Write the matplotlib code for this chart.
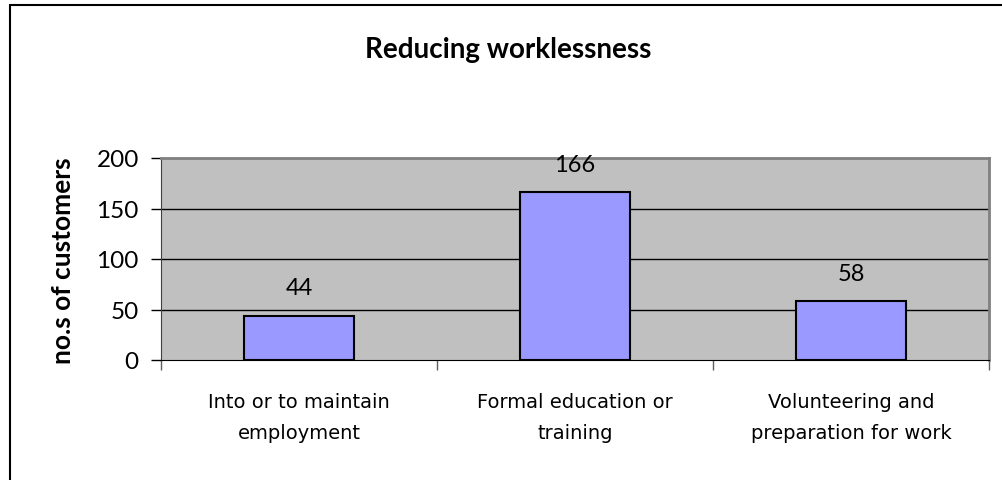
import matplotlib.pyplot as plt
from matplotlib.patches import Rectangle

categorias = ["Into or to maintain\nemployment", "Formal education or\ntraining", "Volunteering and\npreparation for work"]
clientes = [44, 166, 58]
ticks_y = [0, 50, 100, 150, 200]

plt.rcParams['font.family'] = ['Lato', 'DejaVu Sans']

fig = plt.figure(figsize=(10.03, 4.81), dpi=100)
W, H = 1003, 481

# marco exterior del grafico (sale por la derecha y abajo)
fig.patches.append(Rectangle((10 / W, -0.1), 1.1, 1.1 - 5.5 / H, transform=fig.transFigure,
                             fill=False, edgecolor="black", linewidth=1.5))

ax = fig.add_axes([161 / W, (H - 361) / H, 828 / W, 202 / H])
ax.set_facecolor("#C0C0C0")

x = range(len(clientes))
ax.bar(x, clientes, width=0.4, color="#9999FF", edgecolor="black", linewidth=1.5, zorder=3)
for xi, v in zip(x, clientes):
    ax.annotate(str(v), (xi, v), xytext=(0, 20), textcoords="offset points",
                ha="center", va="center", fontsize=17)

ax.set_xlim(-0.5, 2.5)
ax.set_ylim(0, 200)
ax.set_yticks(ticks_y)
ax.tick_params(axis="y", length=7, width=1, direction="out", labelsize=17.5, pad=9)
for y in ticks_y[1:-1]:
    ax.axhline(y, color="black", linewidth=1, zorder=1)

# marcas en los limites de cada categoria, etiquetas en el centro
ax.set_xticks([-0.5, 0.5, 1.5, 2.5])
ax.set_xticklabels([])
ax.tick_params(axis="x", which="major", length=7, width=1, color="#606060")
ax.set_xticks(list(x), minor=True)
ax.set_xticklabels(categorias, minor=True, fontsize=14, linespacing=1.8,
                   family="DejaVu Sans")
ax.tick_params(axis="x", which="minor", length=0, pad=23)

for lado in ["top", "right"]:
    ax.spines[lado].set_color("#808080")
    ax.spines[lado].set_linewidth(2)
ax.spines["left"].set_color("#404040")
ax.spines["bottom"].set_color("black")

fig.text(508 / W, 1 - 50 / H, "Reducing worklessness", ha="center", va="center",
         fontsize=20, fontweight="bold")
fig.text(63 / W, 1 - 261 / H, "no.s of customers", ha="center", va="center",
         rotation=90, fontsize=19, fontweight="bold")

plt.savefig("out.png", dpi=100)
